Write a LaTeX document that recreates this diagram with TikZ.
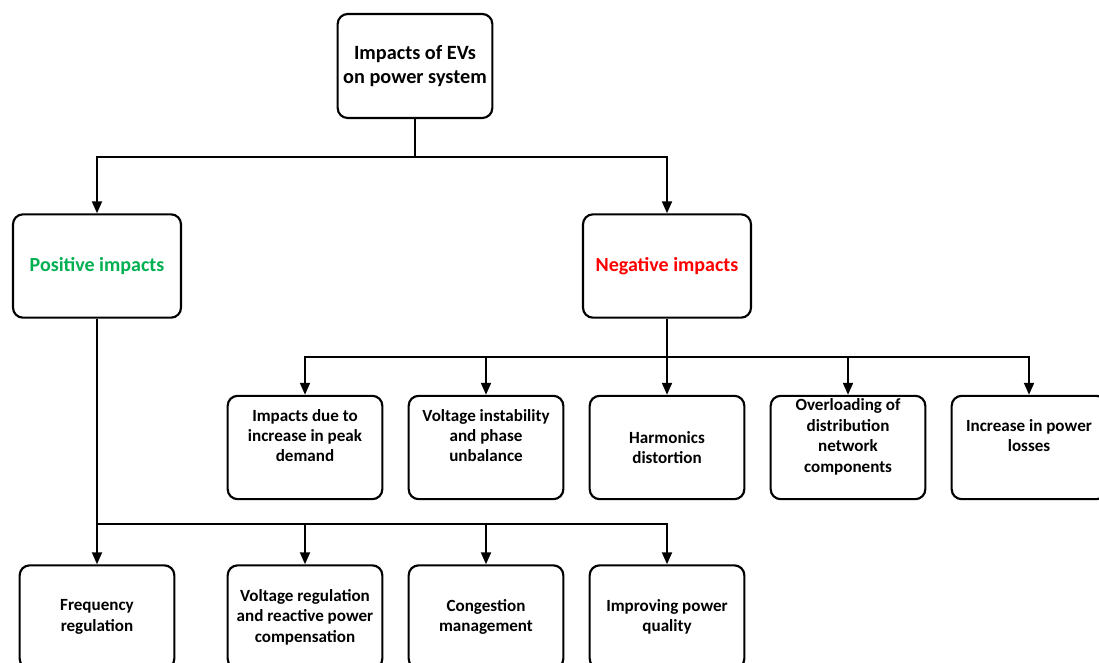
\documentclass[tikz,border=0pt]{standalone}
\usepackage{fontspec}
\setmainfont{Carlito}
\usepackage{xcolor}
\usepackage{tikz}
\usetikzlibrary{arrows.meta}

\definecolor{posgreen}{RGB}{0,176,80}
\definecolor{negred}{RGB}{255,0,0}

\begin{document}
\begin{tikzpicture}[x=0.75pt,y=-0.75pt,
  box/.style={draw, line width=1.6pt, rounded corners=7.5pt, align=center,
    minimum width=116pt, minimum height=77.5pt, inner sep=2pt,
    font=\bfseries\fontsize{12.8}{15.3}\selectfont},
  wide/.style={minimum width=126pt, font=\bfseries\fontsize{15}{17}\selectfont},
  raised/.style={text depth=18pt},
  link/.style={line width=1.5pt},
  arr/.style={link, -{Triangle[length=9pt,width=7.5pt]}}]

\useasboundingbox (0,0) rectangle (1099,663);

% Root box
\node [box, minimum height=78pt, font=\bfseries\fontsize{15.2}{17.5}\selectfont] (evimpact) at (415,66) {Impacts of EVs\\on power system};

% Positive and negative boxes
\node [box, wide, text=posgreen] (positive) at (97,266) {Positive impacts};
\node [box, wide, text=negred] (negative) at (667,266) {Negative impacts};

% Negative impacts row
\node [box, raised] (peak) at (305,447.5) {Impacts due to\\increase in peak\\demand};
\node [box, raised] (instab) at (486,447.5) {Voltage instability\\and phase\\unbalance};
\node [box] (harmonic) at (667,447.5) {Harmonics\\distortion};
\node [box, raised] (overload) at (848,447.5) {Overloading of\\distribution\\network\\components};
\node [box, raised] (losses) at (1029,447.5) {Increase in power\\losses};

% Positive impacts row
\node [box] (freq) at (97,617) {Frequency\\regulation};
\node [box] (vregul) at (305,617) {Voltage regulation\\and reactive power\\compensation};
\node [box] (congest) at (486,617) {Congestion\\management};
\node [box] (quality) at (667,617) {Improving power\\quality};

% Branch points
\coordinate (topjoin) at (415,157);
\coordinate (negjoin) at (667,357);
\coordinate (posjoin) at (97,524);

% Root to the two groups
\draw [link] (evimpact) -- (topjoin);
\draw [arr] (topjoin) -| (positive);
\draw [arr] (topjoin) -| (negative);

% Negative group
\draw [arr] (negative) -- (harmonic);
\draw [arr] (negjoin) -| (peak);
\draw [arr] (negjoin) -| (instab);
\draw [arr] (negjoin) -| (overload);
\draw [arr] (negjoin) -| (losses);

% Positive group
\draw [arr] (positive) -- (freq);
\draw [arr] (posjoin) -| (vregul);
\draw [arr] (posjoin) -| (congest);
\draw [arr] (posjoin) -| (quality);

\end{tikzpicture}
\end{document}
